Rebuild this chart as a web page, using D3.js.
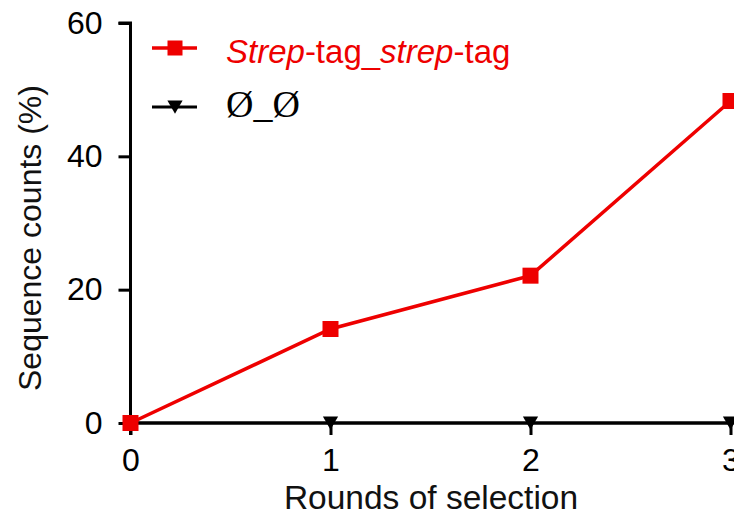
<!DOCTYPE html>
<html>
<head>
<meta charset="utf-8">
<script src="https://cdn.jsdelivr.net/npm/d3@7"></script>
<style>
  html, body { margin: 0; padding: 0; background: #fff; }
  svg { display: block; }
  text { font-family: "Liberation Sans", Arial, Helvetica, sans-serif; }
</style>
</head>
<body>
<svg id="chart" width="734" height="516"></svg>
<script>
// Selection rounds and the share of sequences per construct
const rounds = [0, 1, 2, 3];
const strepValues = [0, 14.1, 22.1, 48.3];
const emptyValues = [0, 0, 0, 0];
const yTicks = [0, 20, 40, 60];
const xTicks = [0, 1, 2, 3];
const seriesNames = ["Strep-tag_strep-tag", "Ø_Ø"];
const seriesColors = ["#ee0000", "#000000"];

const svg = d3.select("#chart");
const W = 734, H = 516;

const x = d3.scaleLinear().domain([0, 3]).range([130.5, 730.5]);
const y = d3.scaleLinear().domain([0, 60]).range([423, 23]);

// y axis
const yAxis = svg.append("g")
  .attr("transform", `translate(${x(0)},0)`)
  .call(d3.axisLeft(y).tickValues(yTicks).tickSize(12).tickPadding(16).tickFormat(d3.format("d")));
// x axis
const xAxis = svg.append("g")
  .attr("transform", `translate(0,${y(0)})`)
  .call(d3.axisBottom(x).tickValues(xTicks).tickSize(12).tickPadding(13).tickFormat(d3.format("d")));

[yAxis, xAxis].forEach(g => {
  g.select(".domain").attr("stroke", "#000").attr("stroke-width", 3);
  g.selectAll(".tick line").attr("stroke", "#000").attr("stroke-width", 3);
  g.selectAll(".tick text")
    .attr("fill", "#000")
    .style("font-family", "'Liberation Sans', Arial, sans-serif")
    .style("font-size", "32px");
});
// the x axis domain runs on past the last round
xAxis.select(".domain").attr("d", `M${x(0)},12V0H${W + 10}`);
yAxis.select(".domain").attr("d", `M-12,${y(60)}H0V${y(0)}`);

// axis titles
svg.append("text")
  .attr("x", 431).attr("y", 509)
  .attr("text-anchor", "middle")
  .style("font-size", "33.5px")
  .attr("fill", "#111")
  .text("Rounds of selection");

svg.append("text")
  .attr("transform", "translate(41,238) rotate(-90)")
  .attr("text-anchor", "middle")
  .style("font-size", "32px")
  .attr("fill", "#111")
  .text("Sequence counts (%)");

const line = d3.line().x((d, i) => x(rounds[i])).y(d => y(d));

// Ø_Ø series (drawn first so the red square covers it at round 0)
svg.append("path")
  .datum(emptyValues)
  .attr("d", line)
  .attr("fill", "none")
  .attr("stroke", seriesColors[1])
  .attr("stroke-width", 3);

const tri = d3.symbol().type(d3.symbolTriangle).size(100);
svg.append("g").selectAll("path")
  .data(emptyValues)
  .join("path")
  .attr("d", tri)
  .attr("transform", (d, i) => `translate(${x(rounds[i])},${y(d) - 2}) rotate(180)`)
  .attr("fill", seriesColors[1]);

// Strep-tag series
svg.append("path")
  .datum(strepValues)
  .attr("d", line)
  .attr("fill", "none")
  .attr("stroke", seriesColors[0])
  .attr("stroke-width", 3.5);

const sq = 16;
svg.append("g").selectAll("rect")
  .data(strepValues)
  .join("rect")
  .attr("x", (d, i) => x(rounds[i]) - sq / 2)
  .attr("y", d => y(d) - sq / 2)
  .attr("width", sq).attr("height", sq)
  .attr("fill", seriesColors[0]);

// legend
const lg = svg.append("g");
lg.append("line").attr("x1", 152).attr("x2", 197).attr("y1", 48).attr("y2", 48)
  .attr("stroke", seriesColors[0]).attr("stroke-width", 3.5);
lg.append("rect").attr("x", 175 - 7.5).attr("y", 48 - 7.5).attr("width", 15).attr("height", 15)
  .attr("fill", seriesColors[0]);
const t1 = lg.append("text").attr("x", 226).attr("y", 63)
  .attr("fill", seriesColors[0]).style("font-size", "33px");
t1.append("tspan").style("font-style", "italic").text("Strep");
t1.append("tspan").text("-tag_");
t1.append("tspan").style("font-style", "italic").text("strep");
t1.append("tspan").text("-tag");

lg.append("line").attr("x1", 152).attr("x2", 197).attr("y1", 107).attr("y2", 107)
  .attr("stroke", seriesColors[1]).attr("stroke-width", 3);
lg.append("path").attr("d", tri)
  .attr("transform", "translate(175,105) rotate(180)")
  .attr("fill", seriesColors[1]);
lg.append("text").attr("x", 226).attr("y", 117)
  .attr("fill", "#000")
  .style("font-family", "'Liberation Serif', 'Times New Roman', serif")
  .style("font-size", "38px")
  .text(seriesNames[1]);
</script>
</body>
</html>
